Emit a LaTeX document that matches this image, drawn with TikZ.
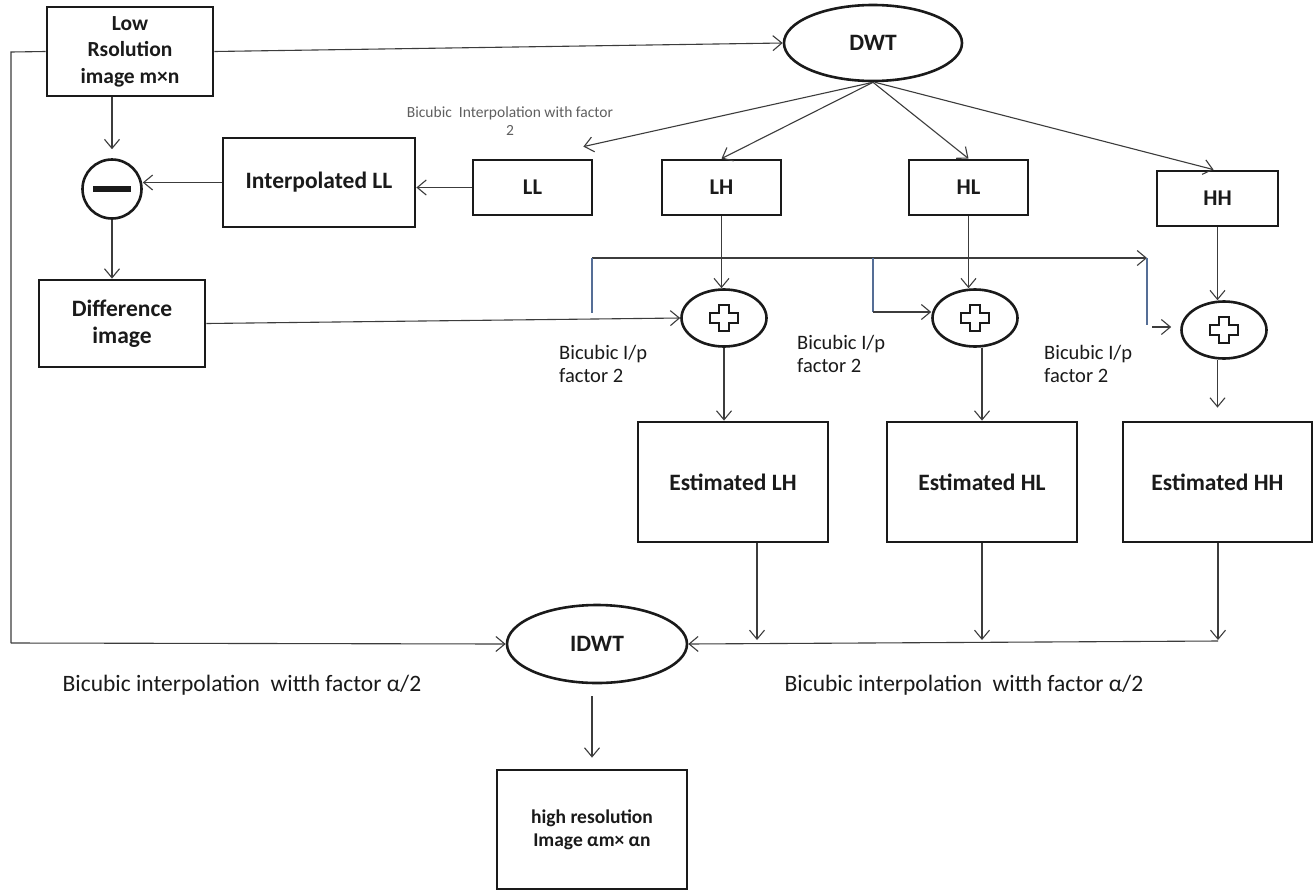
\documentclass[tikz,border=0pt]{standalone}
\usepackage{fontspec}
\setmainfont{Carlito}
\usetikzlibrary{arrows.meta,calc,shapes.geometric}
\definecolor{ink}{HTML}{1A1A1A}
\definecolor{bluegray}{RGB}{85,110,150}
\begin{document}
\begin{tikzpicture}[x=1pt,y=-1pt,
  arr/.style={-{Straight Barb[length=9pt,width=15pt]}, line width=1.1pt, draw=ink!85},
  ln/.style={line width=1.1pt, draw=ink!85},
  box/.style={draw=ink, line width=2.8pt, rectangle, inner sep=0pt, align=center, font=\fontsize{23.5}{27}\selectfont\bfseries, text=ink},
  oval/.style={draw=ink, line width=2.6pt, ellipse, inner sep=0pt, align=center, font=\fontsize{23.5}{27}\selectfont\bfseries, text=ink},
  lbl/.style={text=ink, inner sep=0pt},
]
\fill[white] (0,0) rectangle (1314,892);
\useasboundingbox (0,0) rectangle (1314,892);

% nodes
\node[box, minimum width=166pt, minimum height=89pt, font=\fontsize{21.5}{26.5}\selectfont\bfseries] (LR) at (130,51.5) {Low\\Rsolution\\image m×n};
\node[oval, minimum width=178pt, minimum height=76pt] (DWT) at (873,43) {DWT};
\node[box, minimum width=119pt, minimum height=55pt, font=\fontsize{22.5}{27}\selectfont\bfseries] (LL) at (532.5,187.5) {LL};
\node[box, minimum width=119pt, minimum height=55pt, font=\fontsize{22.5}{27}\selectfont\bfseries] (LH) at (721.5,187.5) {LH};
\node[box, minimum width=119pt, minimum height=55pt, font=\fontsize{22.5}{27}\selectfont\bfseries] (HL) at (968.5,187.5) {HL};
\node[box, minimum width=121pt, minimum height=55pt, font=\fontsize{22.5}{27}\selectfont\bfseries] (HH) at (1217.5,198.5) {HH};
\node[box, minimum width=192pt, minimum height=89pt] (ILL) at (319,182.5) {Interpolated LL};
\node[circle, draw=ink, line width=2.6pt, minimum size=59pt, inner sep=0pt] (minus) at (112,189) {};
\node[box, minimum width=166pt, minimum height=87pt] (Diff) at (122,323.5) {Difference\\image};
\node[oval, minimum width=85pt, minimum height=57pt] (p1) at (724,318) {};
\node[oval, minimum width=85pt, minimum height=57pt] (p2) at (975,318) {};
\node[oval, minimum width=85pt, minimum height=57pt] (p3) at (1224,330) {};
\node[box, minimum width=190pt, minimum height=120pt] (ELH) at (733,482) {Estimated LH};
\node[box, minimum width=190pt, minimum height=120pt] (EHL) at (982,482) {Estimated HL};
\node[box, minimum width=189pt, minimum height=120pt] (EHH) at (1217.5,482) {Estimated HH};
\node[oval, minimum width=180pt, minimum height=78pt] (IDWT) at (597,644) {IDWT};
\node[box, minimum width=190pt, minimum height=119pt, font=\fontsize{19.5}{23}\selectfont\bfseries] (HR) at (592,829.5) {high resolution\\Image αm× αn};

% symbols
\fill[ink] ($(minus.center)+(-19,-3)$) rectangle ($(minus.center)+(19,3)$);
\foreach \n in {p1,p2,p3}{
  \draw[line width=1.9pt, draw=ink, fill=white, shift={(\n.center)}] (-5,-13) -- (5,-13) -- (5,-5) -- (14,-5) -- (14,5) -- (5,5) -- (5,13) -- (-5,13) -- (-5,5) -- (-14,5) -- (-14,-5) -- (-5,-5) -- cycle;
}

% labels
\node[lbl, text=ink!70, align=center, font=\fontsize{15.5}{18}\selectfont] (tl) at (510,121) {Bicubic\ \ Interpolation with factor\\2};
\node[lbl, align=left, anchor=west, font=\fontsize{20.5}{22.5}\selectfont] (bl1) at (559,364) {Bicubic I/p\\factor 2};
\node[lbl, align=left, anchor=west, font=\fontsize{20.5}{22.5}\selectfont] (bl2) at (797,354) {Bicubic I/p\\factor 2};
\node[lbl, align=left, anchor=west, font=\fontsize{20.5}{22.5}\selectfont] (bl3) at (1044,364) {Bicubic I/p\\factor 2};
\node[lbl, font=\fontsize{23.5}{28}\selectfont] (bb1) at (242,685) {Bicubic interpolation\ \ witth factor α/2};
\node[lbl, font=\fontsize{23.5}{28}\selectfont] (bb2) at (964,685) {Bicubic interpolation\ \ witth factor α/2};

% coordinates
\coordinate (llin) at ($(LL.north east)+(-10,-12)$);
\coordinate (b1) at (592,258);
\coordinate (b1d) at (592,313);
\coordinate (b2) at (873,258);
\coordinate (b2d) at (873,312);
\coordinate (b3) at (1147,258);
\coordinate (b3d) at (1147,325);
\coordinate (b3e) at (1152,327);
\coordinate (m1) at (757,640);
\coordinate (m2) at (982,640);
\coordinate (m3) at (1218,640);
\coordinate (ml) at (1218,641);
\coordinate (lc1) at (11,52);
\coordinate (lc2) at (11,643);

% connectors
\draw[arr] (LR.east) -- (DWT.west);
\draw[arr] (DWT.south) -- (llin);
\draw[arr] (DWT.south) -- (LH.north);
\draw[arr] (DWT.south) -- (HL.north);
\draw[arr] ($(DWT.south)+(2,0)$) -- ($(HH.north)+(-4,0)$);
\draw[arr] (LL.west) -- (LL.west -| ILL.east);
\draw[arr] (ILL.west) -- (ILL.west -| minus.east);
\draw[arr] (LR.south -| minus) -- ($(minus.north)+(0,-9)$);
\draw[arr] (minus.south) -- (minus.south |- Diff.north);
\draw[arr] (Diff.east) -- (p1.west);
\draw[arr] (b1) -- (b3);
\draw[line width=1.1pt, bluegray] (b1) -- (b1d);
\draw[line width=1.1pt, bluegray] (b2) -- (b2d);
\draw[line width=1.1pt, bluegray] (b3) -- (b3d);
\draw[arr] (b2d) -- (b2d -| p2.west);
\draw[arr] (b3e) -- ($(p3.west)+(-9,-3)$);
\draw[arr] (LH.south) -- (LH.south |- p1.north);
\draw[arr] (HL.south) -- (HL.south |- p2.north);
\draw[arr] (HH.south) -- (HH.south |- p3.north);
\draw[arr] (p1.south) -- (p1.south |- ELH.north);
\draw[arr] ($(p2.south)+(7,0)$) -- (EHL.north);
\draw[arr] (p3.south -| EHH.north) -- ($(EHH.north)+(0,-13)$);
\draw[arr] (ELH.south -| m1) -- (m1);
\draw[arr] (EHL.south -| m2) -- (m2);
\draw[arr] (EHH.south -| m3) -- (m3);
\draw[arr] (ml) -- (IDWT.east);
\draw[ln] (LR.west) -- (lc1) -- (lc2);
\draw[arr] (lc2) -- (IDWT.west);
\draw[arr] ($(IDWT.south)+(-5,12)$) -- ($(HR.north)+(0,-11)$);
\end{tikzpicture}
\end{document}
